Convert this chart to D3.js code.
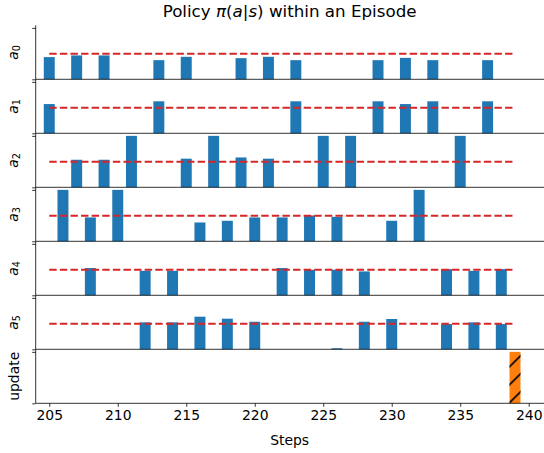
<!DOCTYPE html>
<html>
<head>
<meta charset="utf-8">
<script src="https://cdn.jsdelivr.net/npm/d3@7"></script>
<style>
  body { margin: 0; background: #fff; }
  svg { display: block; font-family: "DejaVu Sans", sans-serif; }
</style>
</head>
<body>
<div class="chart"></div>
<script>
(function(){

//steps shown on the x axis
var steps = [205, 206, 207, 208, 209, 210, 211, 212, 213, 214, 215, 216, 217, 218, 219, 220, 221,
             222, 223, 224, 225, 226, 227, 228, 229, 230, 231, 232, 233, 234, 235, 236, 237, 238, 239];

//policy probabilities per action (0 = no bar)
var a0 = [0.145, 0, 0.156, 0, 0.156, 0, 0, 0, 0.125, 0, 0.147, 0, 0, 0, 0.138, 0, 0.147,
          0, 0.125, 0, 0, 0, 0, 0, 0.125, 0, 0.140, 0, 0.125, 0, 0, 0, 0.125, 0, 0];
var a1 = [0.191, 0, 0, 0, 0, 0, 0, 0, 0.209, 0, 0, 0, 0, 0, 0, 0, 0,
          0, 0.209, 0, 0, 0, 0, 0, 0.209, 0, 0.191, 0, 0.209, 0, 0, 0, 0.209, 0, 0];
var a2 = [0, 0, 0.180, 0, 0.180, 0, 0.336, 0, 0, 0, 0.187, 0, 0.336, 0, 0.195, 0, 0.187,
          0, 0, 0, 0.336, 0, 0.336, 0, 0, 0, 0, 0, 0, 0, 0.336, 0, 0, 0, 0];
var a3 = [0, 0.336, 0, 0.156, 0, 0.336, 0, 0, 0, 0, 0, 0.123, 0, 0.134, 0, 0.156, 0,
          0.156, 0, 0.169, 0, 0.160, 0, 0, 0, 0.134, 0, 0.336, 0, 0, 0, 0, 0, 0, 0];
var a4 = [0, 0, 0, 0.178, 0, 0, 0, 0.160, 0, 0.160, 0, 0, 0, 0, 0, 0, 0,
          0.178, 0, 0.167, 0, 0.167, 0, 0.156, 0, 0, 0, 0, 0, 0.171, 0, 0.160, 0, 0.171, 0];
var a5 = [0, 0, 0, 0, 0, 0, 0, 0.176, 0, 0.176, 0, 0.213, 0, 0.200, 0, 0.180, 0,
          0, 0, 0, 0, 0.007, 0, 0.180, 0, 0.198, 0, 0, 0, 0.165, 0, 0.176, 0, 0.165, 0];
//policy update flag
var update = [0, 0, 0, 0, 0, 0, 0, 0, 0, 0, 0, 0, 0, 0, 0, 0, 0,
              0, 0, 0, 0, 0, 0, 0, 0, 0, 0, 0, 0, 0, 0, 0, 0, 0, 1];

var actions = [a0, a1, a2, a3, a4, a5];
var uniform = 1 / actions.length;   // red dashed reference
var xTicks = [205, 210, 215, 220, 225, 230, 235, 240];

var width = 544,
    height = 453;
var left = 35.7, right = 543.5, top = 25.3, panelH = 54;

var svg = d3.select(".chart")
    .append("svg")
    .attr("width", width)
    .attr("height", height);

// hatch for the update bar
svg.append("defs").append("pattern")
    .attr("id", "hatch")
    .attr("patternUnits", "userSpaceOnUse")
    .attr("width", 18).attr("height", 18)
    .attr("x", 1).attr("y", 4)
  .append("path")
    .attr("d", "M-2,20 L20,-2")
    .attr("stroke", "#000")
    .attr("stroke-width", 1.6);

var x = d3.scaleLinear()
    .domain([204.01, 241.08])
    .range([left, right]);

var barW = x(0.8) - x(0);

var pMax = d3.max(actions, function(a){ return d3.max(a); });
var yAct = d3.scaleLinear().domain([0, pMax * 1.05]).range([panelH, 0]);
var yUpd = d3.scaleLinear().domain([0, d3.max(update) * 1.05]).range([panelH, 0]);

var panels = actions.concat([update]);

panels.forEach(function(vals, i){
    var isUpd = (i === panels.length - 1);
    var y = isUpd ? yUpd : yAct;
    var g = svg.append("g")
        .attr("transform", "translate(0," + (top + i * panelH) + ")");

    var data = steps.map(function(s, k){ return {step: s, v: vals[k]}; })
                    .filter(function(d){ return d.v > 0; });

    g.selectAll(".bar")
        .data(data)
        .enter()
        .append("rect")
        .attr("class", "bar")
        .attr("x", function(d){ return x(d.step) - barW / 2; })
        .attr("width", barW)
        .attr("y", function(d){ return y(d.v); })
        .attr("height", function(d){ return panelH - y(d.v); })
        .attr("fill", isUpd ? "#ff7f0e" : "#1f77b4");

    if (isUpd) {
        g.selectAll(".hatch")
            .data(data)
            .enter()
            .append("rect")
            .attr("class", "hatch")
            .attr("x", function(d){ return x(d.step) - barW / 2; })
            .attr("width", barW)
            .attr("y", function(d){ return y(d.v); })
            .attr("height", function(d){ return panelH - y(d.v); })
            .attr("fill", "url(#hatch)");
    } else {
        g.append("line")
            .attr("x1", x(steps[0]))
            .attr("x2", x(steps[steps.length - 1]))
            .attr("y1", y(uniform))
            .attr("y2", y(uniform))
            .attr("stroke", "#d62728")
            .attr("stroke-width", 2)
            .attr("stroke-dasharray", "7.4,3.2");
    }

    // left spine + ticks (no labels)
    var yAxis = d3.axisLeft(y)
        .tickValues([0, isUpd ? d3.max(update) : pMax])
        .tickSize(3.5)
        .tickFormat("");
    g.append("g")
        .attr("transform", "translate(" + left + ",0)")
        .call(yAxis)
        .call(function(a){
            a.select(".domain").attr("d", "M0," + panelH + "V0").attr("stroke", "#000").attr("stroke-width", 0.8);
            a.selectAll(".tick line").attr("stroke", "#000").attr("stroke-width", 0.8);
        });

    // bottom spine
    g.append("line")
        .attr("x1", left).attr("x2", right + 2)
        .attr("y1", panelH).attr("y2", panelH)
        .attr("stroke", "#000")
        .attr("stroke-width", 0.8);

    // y label
    var lab = g.append("text")
        .attr("transform", "translate(" + (isUpd ? 18.5 : 18.3) + "," + (panelH / 2) + ") rotate(-90)")
        .attr("text-anchor", "middle")
        .attr("font-size", "13.9px")
        .attr("fill", "#000");
    if (isUpd) {
        lab.text("update");
    } else {
        lab.append("tspan").attr("font-style", "italic").text("a");
        lab.append("tspan").attr("font-size", "9.7px").attr("dy", 1.5).text(i);
    }

    if (isUpd) {
        var xAxis = d3.axisBottom(x)
            .tickValues(xTicks)
            .tickSize(3.5)
            .tickPadding(3.5)
            .tickFormat(d3.format("d"));
        g.append("g")
            .attr("transform", "translate(0," + panelH + ")")
            .call(xAxis)
            .call(function(a){
                a.select(".domain").remove();
                a.selectAll(".tick line").attr("stroke", "#000").attr("stroke-width", 0.8);
                a.selectAll(".tick text")
                    .attr("font-size", "13.9px")
                    .attr("font-family", "DejaVu Sans")
                    .attr("fill", "#000");
            });
    }
});

// x label
svg.append("text")
    .attr("x", (left + right) / 2)
    .attr("y", 445)
    .attr("text-anchor", "middle")
    .attr("font-size", "13.9px")
    .text("Steps");

// title
var title = svg.append("text")
    .attr("x", (left + right) / 2)
    .attr("y", 17)
    .attr("text-anchor", "middle")
    .attr("font-size", "16.7px");
title.append("tspan").text("Policy ");
title.append("tspan").attr("font-style", "italic").text("π");
title.append("tspan").text("(");
title.append("tspan").attr("font-style", "italic").text("a");
title.append("tspan").text("|");
title.append("tspan").attr("font-style", "italic").text("s");
title.append("tspan").text(") within an Episode");

})();
</script>
</body>
</html>
